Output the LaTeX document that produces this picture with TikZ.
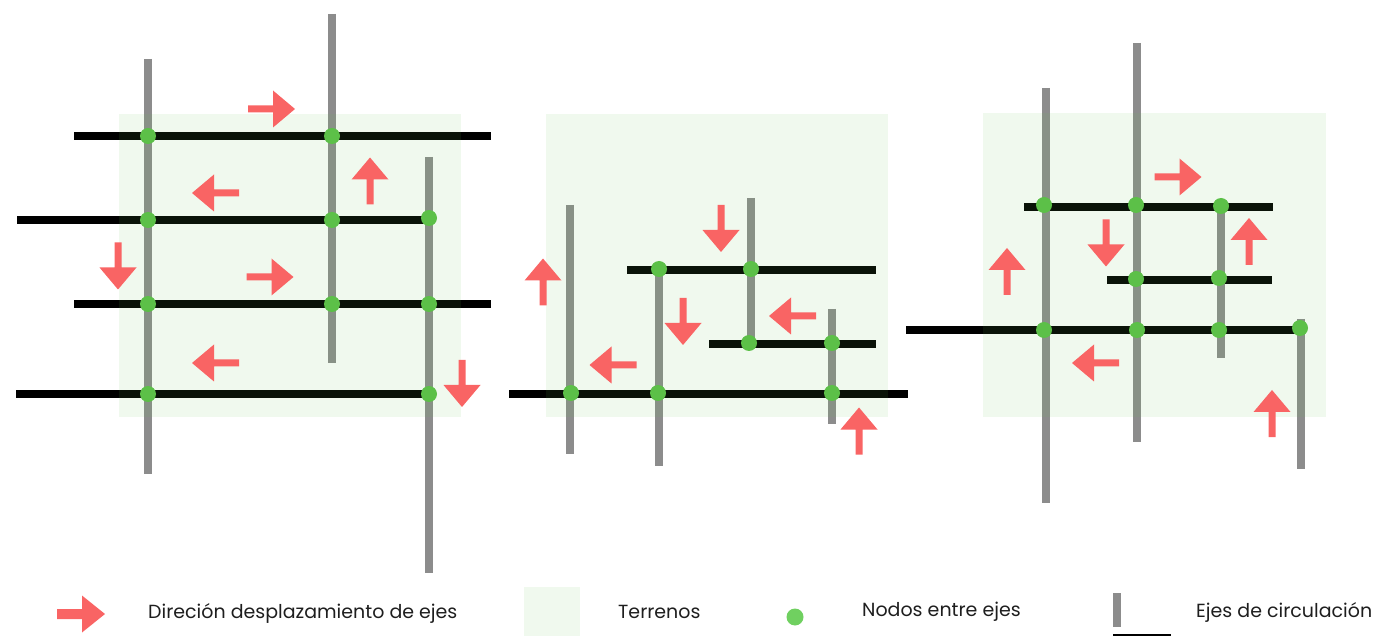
\documentclass[tikz,border=0pt]{standalone}
\usepackage{fontspec}
\setmainfont{Poppins}
\definecolor{arrowred}{RGB}{249,100,100}
\definecolor{axisgrey}{RGB}{140,140,140}
\definecolor{nodegreen}{RGB}{92,192,72}
\definecolor{legendgreen}{RGB}{112,208,96}
\definecolor{overlaygreen}{RGB}{105,195,85}
\definecolor{textdark}{RGB}{30,30,30}
\tikzset{
  axisv/.style={draw=axisgrey, line width=8.5pt},
  axish/.style={draw=black, line width=7.5pt},
  terreno/.style={fill=overlaygreen, fill opacity=0.1, draw=none},
  nodo/.style={circle, fill=nodegreen, minimum size=16pt, inner sep=0pt, draw=none},
  legtext/.style={anchor=west, inner sep=0pt, text=textdark, font=\fontsize{19}{22}\selectfont},
  pics/blockarrow/.style={code={
    \fill[arrowred] (-23.5,-3.5) -- (1.5,-3.5) -- (1.5,-18.5) -- (23.5,0) -- (1.5,18.5) -- (1.5,3.5) -- (-23.5,3.5) -- cycle;}},
  pics/legendarrow/.style={code={
    \fill[arrowred] (-24,-5) -- (1,-5) -- (1,-18.5) -- (24,0) -- (1,18.5) -- (1,5) -- (-24,5) -- cycle;}},
}
\begin{document}
\begin{tikzpicture}[x=1pt,y=-1pt]
\useasboundingbox (0,0) rectangle (1377,636);

% ---------- Panel 1 ----------
\draw[axish] (74,136) -- (491,136);
\draw[axish] (17,220) -- (429,220);
\draw[axish] (74,304) -- (491,304);
\draw[axish] (16,394) -- (429,394);
\draw[axisv] (148,59) -- (148,474);
\draw[axisv] (332,14) -- (332,363);
\draw[axisv] (429,157) -- (429,573);
\fill[terreno] (119,114) rectangle (461,417);
\node[nodo] (a1) at (148,136) {};
\node[nodo] (a2) at (332,136) {};
\node[nodo] (a3) at (148,220) {};
\node[nodo] (a4) at (332,220) {};
\node[nodo] (a5) at (429,218) {};
\node[nodo] (a6) at (148,304) {};
\node[nodo] (a7) at (332,304) {};
\node[nodo] (a8) at (429,304) {};
\node[nodo] (a9) at (148,394) {};
\node[nodo] (a10) at (429,394) {};
\pic at (271.5,109) {blockarrow};
\pic[rotate=90] at (370,181) {blockarrow};
\pic[rotate=180] at (215.5,193) {blockarrow};
\pic[rotate=-90] at (118,266) {blockarrow};
\pic at (270,277) {blockarrow};
\pic[rotate=180] at (215.5,363) {blockarrow};
\pic[rotate=-90] at (462,383.5) {blockarrow};

% ---------- Panel 2 ----------
\draw[axish] (627,270) -- (876,270);
\draw[axish] (709,344) -- (876,344);
\draw[axish] (509,394) -- (908,394);
\draw[axisv] (570,205) -- (570,454);
\draw[axisv] (659,269) -- (659,466);
\draw[axisv] (751,198) -- (751,343);
\draw[axisv] (832,309) -- (832,424);
\fill[terreno] (546,114) rectangle (888,417);
\node[nodo] (b1) at (659,269) {};
\node[nodo] (b2) at (751,269) {};
\node[nodo] (b3) at (749,343) {};
\node[nodo] (b4) at (832,343) {};
\node[nodo] (b5) at (571,393) {};
\node[nodo] (b6) at (658,393) {};
\node[nodo] (b7) at (832,393) {};
\pic[rotate=-90] at (721,228.5) {blockarrow};
\pic[rotate=90] at (543,282) {blockarrow};
\pic[rotate=-90] at (683,321.5) {blockarrow};
\pic[rotate=180] at (792.5,316) {blockarrow};
\pic[rotate=180] at (613,365) {blockarrow};
\pic[rotate=90] at (859,431) {blockarrow};

% ---------- Panel 3 ----------
\draw[axish] (1024,207) -- (1273,207);
\draw[axish] (1107,280) -- (1272,280);
\draw[axish] (906,330) -- (1300,330);
\draw[axisv] (1046,88) -- (1046,503);
\draw[axisv] (1137,43) -- (1137,442);
\draw[axisv] (1221,206) -- (1221,358);
\draw[axisv] (1301,319) -- (1301,469);
\fill[terreno] (983,113) rectangle (1326,417);
\node[nodo] (c1) at (1044,205) {};
\node[nodo] (c2) at (1136,205) {};
\node[nodo] (c3) at (1221,206) {};
\node[nodo] (c4) at (1136,279) {};
\node[nodo] (c5) at (1219,278) {};
\node[nodo] (c6) at (1044,330) {};
\node[nodo] (c7) at (1137,330) {};
\node[nodo] (c8) at (1219,330) {};
\node[nodo] (c9) at (1300,328) {};
\pic at (1178,177) {blockarrow};
\pic[rotate=90] at (1249,241.5) {blockarrow};
\pic[rotate=-90] at (1106,243) {blockarrow};
\pic[rotate=90] at (1007,271.5) {blockarrow};
\pic[rotate=180] at (1095.5,363) {blockarrow};
\pic[rotate=90] at (1272,413.5) {blockarrow};

% ---------- Legend ----------
\pic at (81,614) {legendarrow};
\node[legtext] (t1) at (148,613) {Direción desplazamiento de ejes};
\fill[overlaygreen, fill opacity=0.1] (524,587) rectangle (580,636);
\node[legtext] (t2) at (618,612) {Terrenos};
\node[circle, fill=legendgreen, minimum size=17pt, inner sep=0pt] (ld) at (795,617) {};
\node[legtext] (t3) at (862,612) {Nodos entre ejes};
\fill[axisgrey] (1112.5,593) rectangle (1121,627);
\fill[black] (1113,633.5) rectangle (1171,637);
\node[legtext] (t4) at (1196,612) {Ejes de circulación};
\end{tikzpicture}
\end{document}
